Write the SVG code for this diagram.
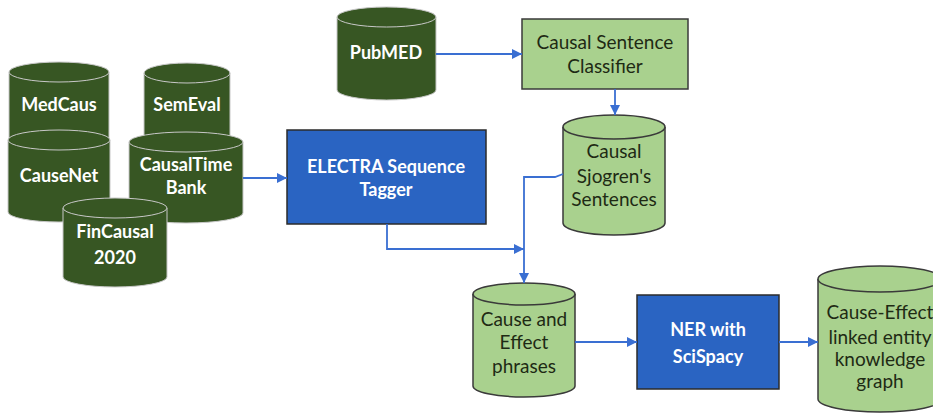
<svg xmlns="http://www.w3.org/2000/svg" width="933" height="417" viewBox="0 0 933 417">
<defs>
<marker id="ah" viewBox="0 0 10 10" refX="10" refY="5" markerWidth="10" markerHeight="10" markerUnits="userSpaceOnUse" orient="auto">
<path d="M0,0 L10,5 L0,10 Z" fill="#3a6fd2"/>
</marker>
<style>
.dk path{fill:#375623;stroke:#c8c8c8;stroke-width:1}
.lg path{fill:#a9d18e;stroke:#3a3a3a;stroke-width:1.5}
.lgr{fill:#a9d18e;stroke:#3a3a3a;stroke-width:1.5}
.bl{fill:#2a64c2;stroke:#2b2b2b;stroke-width:1.5}
.wt{fill:#ffffff;font-family:Lato,"Open Sans",sans-serif;font-weight:bold;font-size:18px;text-anchor:middle}
.bt{fill:#1e2a14;font-family:Lato,"Open Sans",sans-serif;font-size:19px;text-anchor:middle}
.cn{fill:none;stroke:#3a6fd2;stroke-width:1.8}
</style>
</defs>
<rect width="933" height="417" fill="#ffffff"/>
<g id="medcaus" class="dk">
<path d="M9,72 A50,10 0 0 1 109,72 V150 A50,10 0 0 1 9,150 Z"/>
<path d="M9,72 A50,10 0 0 0 109,72"/>
<text class="wt" x="59" y="111">MedCaus</text>
</g>
<g id="semeval" class="dk">
<path d="M144,73 A43,10 0 0 1 230,73 V150 A43,10 0 0 1 144,150 Z"/>
<path d="M144,73 A43,10 0 0 0 230,73"/>
<text class="wt" x="187" y="111">SemEval</text>
</g>
<g id="causenet" class="dk">
<path d="M8,140 A51,10 0 0 1 110,140 V212 A51,10 0 0 1 8,212 Z"/>
<path d="M8,140 A51,10 0 0 0 110,140"/>
<text class="wt" x="59" y="182">CauseNet</text>
</g>
<g id="causaltimebank" class="dk">
<path d="M129,142 A57,10 0 0 1 243,142 V213 A57,10 0 0 1 129,213 Z"/>
<path d="M129,142 A57,10 0 0 0 243,142"/>
<text class="wt" x="186" y="171">CausalTime</text>
<text class="wt" x="186" y="194">Bank</text>
</g>
<g id="fincausal" class="dk">
<path d="M63,208 A52,10 0 0 1 167,208 V277 A52,10 0 0 1 63,277 Z"/>
<path d="M63,208 A52,10 0 0 0 167,208"/>
<text class="wt" x="115" y="238">FinCausal</text>
<text class="wt" x="115" y="264">2020</text>
</g>
<g id="pubmed" class="dk">
<path d="M337,17 A49.5,10 0 0 1 436,17 V90 A49.5,10 0 0 1 337,90 Z"/>
<path d="M337,17 A49.5,10 0 0 0 436,17"/>
<text class="wt" x="386" y="59">PubMED</text>
</g>
<g id="classifier">
<rect class="lgr" x="522" y="19" width="166" height="70"/>
<text class="bt" x="605" y="49">Causal Sentence</text>
<text class="bt" x="605" y="73">Classifier</text>
</g>
<g id="sjogren" class="lg">
<path d="M563,127 A51,12 0 0 1 665,127 V223 A51,12 0 0 1 563,223 Z"/>
<path d="M563,127 A51,12 0 0 0 665,127"/>
<text class="bt" x="614" y="158">Causal</text>
<text class="bt" x="614" y="183">Sjogren's</text>
<text class="bt" x="614" y="206">Sentences</text>
</g>
<g id="electra">
<rect class="bl" x="287" y="130" width="199" height="94"/>
<text class="wt" x="386" y="173">ELECTRA Sequence</text>
<text class="wt" x="386" y="196">Tagger</text>
</g>
<g id="phrases" class="lg">
<path d="M473,294 A51,11 0 0 1 575,294 V386 A51,11 0 0 1 473,386 Z"/>
<path d="M473,294 A51,11 0 0 0 575,294"/>
<text class="bt" x="524" y="326">Cause and</text>
<text class="bt" x="524" y="349">Effect</text>
<text class="bt" x="524" y="373">phrases</text>
</g>
<g id="ner">
<rect class="bl" x="637" y="295" width="142" height="94"/>
<text class="wt" x="708" y="336">NER with</text>
<text class="wt" x="708" y="363">SciSpacy</text>
</g>
<g id="kg" class="lg">
<path d="M818,279 A62,13 0 0 1 942,279 V399 A62,13 0 0 1 818,399 Z"/>
<path d="M818,279 A62,13 0 0 0 942,279"/>
<text class="bt" x="880" y="319">Cause-Effect</text>
<text class="bt" x="880" y="344">linked entity</text>
<text class="bt" x="880" y="366">knowledge</text>
<text class="bt" x="880" y="388">graph</text>
</g>
<g id="connectors">
<path class="cn" d="M243,178 H287" marker-end="url(#ah)"/>
<path class="cn" d="M436,54 H522" marker-end="url(#ah)"/>
<path class="cn" d="M615,89 V115" marker-end="url(#ah)"/>
<path class="cn" d="M387,224 V249 H524" marker-end="url(#ah)"/>
<path class="cn" d="M563,174 L555,177 H524 V283" marker-end="url(#ah)"/>
<path class="cn" d="M575,342 H637" marker-end="url(#ah)"/>
<path class="cn" d="M779,342 H818" marker-end="url(#ah)"/>
</g>
</svg>
